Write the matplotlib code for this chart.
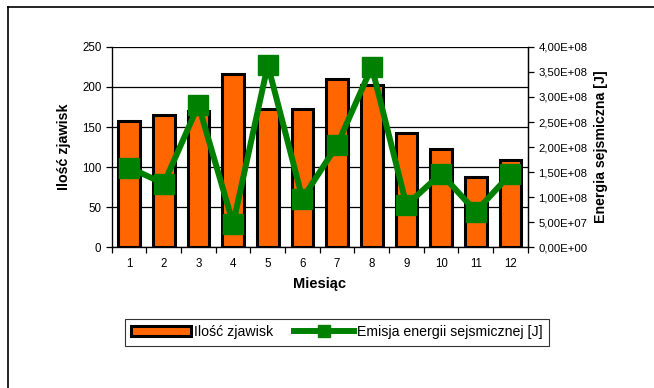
import matplotlib.pyplot as plt
import numpy as np
from matplotlib.lines import Line2D

plt.rcParams['font.family'] = ['Liberation Sans', 'DejaVu Sans']

months = [1, 2, 3, 4, 5, 6, 7, 8, 9, 10, 11, 12]
counts = [158, 165, 170, 216, 173, 172, 210, 202, 142, 122, 87, 109]
energy = [1.59e8, 1.27e8, 2.84e8, 4.7e7, 3.64e8, 9.7e7, 2.04e8, 3.6e8, 8.4e7, 1.47e8, 7.1e7, 1.46e8]
right_ticks = np.arange(0, 4.01e8, 5e7)


def sci_label(v):
    # format like "1,50E+08"
    if v == 0:
        return '0,00E+00'
    exp = int(np.floor(np.log10(v)))
    return ('%.2fE+%02d' % (v / 10 ** exp, exp)).replace('.', ',')


right_labels = [sci_label(v) for v in right_ticks]

fig = plt.figure(figsize=(6.54, 3.88), dpi=100)
ax = fig.add_axes([0.171, 0.363, 0.636, 0.516])

x = np.arange(len(months))
ax.bar(x, counts, width=0.62, color='#ff6600', edgecolor='black', linewidth=2.2, zorder=2)
ax.set_xlim(-0.5, 11.5)
ax.set_ylim(0, 250)
ax.set_yticks([0, 50, 100, 150, 200, 250])
ax.yaxis.grid(True, color='black', linewidth=0.9, zorder=0)
ax.set_axisbelow(True)
ax.set_xticks(x)
ax.set_xticklabels(months)
ax.set_xticks(np.arange(-0.5, 12, 1), minor=True)
ax.tick_params(axis='x', which='major', length=0, pad=8, labelsize=8.3)
ax.tick_params(axis='x', which='minor', length=4, direction='out', width=0.9)
ax.tick_params(axis='y', length=4, width=0.9, labelsize=8.3)
ax.spines['top'].set_visible(False)
for s in ['left', 'bottom', 'right']:
    ax.spines[s].set_linewidth(0.9)
ax.set_xlabel('Miesiąc', fontsize=10.5, fontweight='bold', labelpad=5)
ax.set_ylabel('Ilość zjawisk', fontsize=10.3, fontweight='bold', labelpad=8)

ax2 = ax.twinx()
ax2.plot(x, energy, color='#008000', linewidth=4.3, marker='s', markersize=15,
         markeredgecolor='#008000', zorder=3)
ax2.set_ylim(0, 4e8)
ax2.set_yticks(right_ticks)
ax2.set_yticklabels(right_labels)
ax2.tick_params(axis='y', length=4, width=0.9, labelsize=8.2)
ax2.spines['top'].set_visible(False)
ax2.spines['right'].set_linewidth(0.9)
ax2.set_ylabel('Energia sejsmiczna [J]', fontsize=10.2, fontweight='bold', labelpad=5)

handles = [
    plt.Rectangle((0, 0), 1, 1, facecolor='#ff6600', edgecolor='black', linewidth=2.2),
    Line2D([0], [0], color='#008000', linewidth=4.3, marker='s', markersize=8),
]
leg = fig.legend(handles, ['Ilość zjawisk', 'Emisja energii sejsmicznej [J]'],
                 loc='center', bbox_to_anchor=(0.515, 0.144), ncol=2, fontsize=10.2,
                 frameon=True, fancybox=False, edgecolor='black', handlelength=4.2,
                 handletextpad=0.2, columnspacing=1.5, borderpad=0.45)
leg.get_frame().set_linewidth(0.8)

# outer chart frame
fig.add_artist(Line2D([0.012, 0.012], [0, 0.982], color='black', linewidth=1.2))
fig.add_artist(Line2D([0.012, 1.0], [0.982, 0.982], color='black', linewidth=1.2))

fig.savefig('out.png', dpi=100)
